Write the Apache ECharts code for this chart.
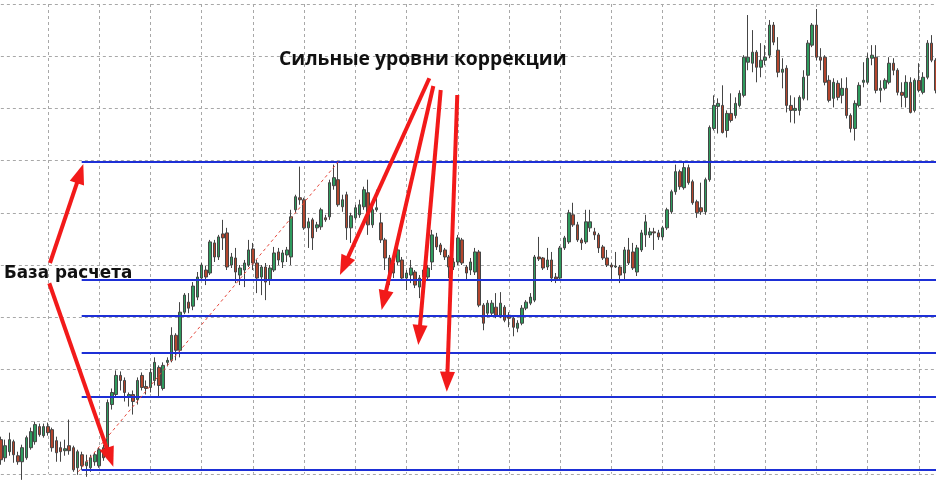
<!DOCTYPE html>
<html><head><meta charset="utf-8">
<script src="https://cdn.jsdelivr.net/npm/echarts@6/dist/echarts.min.js"></script>
<style>html,body{margin:0;padding:0;background:#fff}#c{width:936px;height:484px}</style>
</head><body><div id="c"></div>
<script>
// Values in pips above 1.3000 (one bar per category)
const opens = [
34,16,22,32,18,12,16,26,32,
47,38,47,44,33,26,23,28,26,6,
19,8,6,12,8,26,26,69,79,98,
93,76,79,74,98,87,86,93,106,85,
111,113,138,123,161,171,167,176,195,203,
200,230,216,239,240,208,215,198,203,208,
224,210,196,206,193,203,221,211,218,216,
263,275,273,245,253,245,246,255,256,287,
293,266,278,245,255,258,266,280,248,263,
250,233,215,210,211,213,195,198,201,186,
203,196,211,236,228,223,216,206,211,233,
206,203,201,221,168,160,160,166,158,166,
158,155,145,150,165,170,173,216,215,206,
213,196,195,225,231,258,248,233,231,245,
241,238,226,215,208,206,206,200,223,221,
201,223,238,238,241,240,236,245,261,281,
301,285,305,291,271,265,261,293,344,366,
367,342,359,357,367,377,410,409,420,405,
412,417,447,422,400,404,367,362,362,374,
397,427,447,415,415,392,374,389,377,384,
357,344,367,390,390,414,415,382,384,390,
409,402,380,375,390,362,392,380,395,429,412];
const closes = [
14,28,34,19,12,26,36,42,49,
39,47,41,26,21,22,25,23,4,22,
8,12,16,19,24,16,71,81,98,93,
81,79,72,93,86,85,101,111,88,108,
113,138,123,161,178,165,187,196,208,196,
231,216,236,235,206,216,201,205,210,223,
210,195,206,191,205,220,213,220,223,256,
276,273,245,251,235,248,263,253,290,295,
268,273,245,257,265,268,283,248,263,265,
233,215,198,200,223,195,200,205,188,195,
196,205,238,226,221,216,206,211,235,210,
200,211,221,168,150,170,170,158,170,153,
155,146,150,165,171,176,216,214,205,213,
195,194,225,235,260,248,233,230,251,251,
238,225,215,208,206,207,198,223,210,205,
225,240,251,241,240,236,245,263,281,301,
286,305,290,270,260,261,293,345,367,369,
340,359,352,369,379,415,415,420,405,412,
415,447,430,400,403,367,362,364,375,395,
429,447,415,412,390,372,390,375,384,357,
344,369,387,392,414,417,382,384,392,409,
402,380,377,390,360,392,382,395,429,412,382];
const lows = [
9,12,18,11,9,-6,14,24,29,
37,36,38,22,12,12,18,19,2,-1,
4,-3,2,8,6,13,22,64,76,83,
72,67,59,69,83,79,81,88,77,83,
107,111,113,116,159,160,163,173,193,188,
198,211,213,223,203,205,190,188,186,206,
203,180,178,173,188,201,208,205,211,208,
260,268,243,225,223,241,243,251,253,283,
266,261,233,230,253,255,263,238,245,261,
230,203,188,195,208,193,183,190,185,175,
193,193,203,223,218,213,195,203,208,208,
193,198,198,166,143,156,157,155,155,151,
146,137,141,148,163,168,171,212,203,203,
191,190,193,223,229,246,231,223,229,241,
233,220,213,206,193,205,190,193,208,203,
197,221,226,235,223,233,233,243,259,278,
283,283,288,268,255,258,258,291,342,339,
339,335,350,354,365,375,402,400,390,395,
407,414,427,395,384,360,350,349,357,372,
372,425,412,402,387,370,365,372,369,354,
340,332,365,385,388,407,379,370,382,388,
397,377,365,365,359,360,380,378,393,410,379];
const highs = [
37,34,41,34,22,29,38,46,52,
50,50,51,46,37,32,34,54,28,24,
22,19,19,21,26,29,74,85,103,102,
96,81,83,96,101,93,105,116,108,111,
116,146,140,171,180,180,191,201,210,207,
233,233,238,253,245,220,225,208,213,233,
230,213,208,210,208,226,225,223,226,263,
278,306,275,255,255,251,265,258,293,308,
311,278,281,260,268,273,286,293,266,283,
260,235,218,213,226,216,203,213,203,198,
205,208,243,240,230,225,218,215,238,235,
208,215,225,223,170,173,173,180,181,168,
161,158,153,168,173,180,218,236,216,225,
221,200,227,237,263,270,251,235,263,263,
245,240,228,223,210,221,208,226,235,230,
228,243,258,245,245,243,247,265,283,308,
303,311,308,293,273,290,295,347,377,374,
387,362,379,375,382,417,457,442,422,429,
427,452,450,435,414,407,377,375,377,402,
432,449,463,424,417,397,394,392,394,395,
359,372,390,410,419,427,427,392,394,415,
414,404,390,397,395,394,409,400,432,437,414];

// Retracement levels (pips): 100%, 38.2%, 50%, 61.8%, 76.4%, 0%
const fibLevels = [311, 193, 157, 121, 77, 4];
const fibStartBar = 18.93;
// trend (base) line: [bar, pips]
const trendLine = [[18.14, 2.1], [79.03, 310.9]];
// annotation arrows: [[fromBar, fromPips], [arrowHeadBar, arrowHeadPips]]
const arrows = [
  [[11.51, 210.0], [18.56, 299.1]],
  [[11.34, 189.8], [25.56, 16.4]],
  [[100.34, 394.0], [80.38, 207.1]],
  [[101.28, 386.3], [89.70, 172.8]],
  [[103.01, 382.3], [97.97, 138.3]],
  [[106.89, 377.3], [104.51, 91.7]]
];
const NCAT = opens.length;
const categories = [];
for (let i = 0; i < NCAT; i++) categories.push('Bar ' + (i + 1));

const candles = opens.map((o, i) => [o, closes[i], lows[i], highs[i]]);

const gridLine = {color: '#a8a8a8', type: [3, 3], width: 1};
const chart = echarts.init(document.getElementById('c'));
chart.setOption({
  animation: false,
  backgroundColor: '#ffffff',
  grid: {left: 0.86, right: 0, top: 4, bottom: 10.2},
  xAxis: [
    {type: 'category', data: categories, boundaryGap: false,
     axisLine: {show: false}, axisTick: {show: false}, axisLabel: {show: false},
     splitLine: {show: true, interval: function (idx) { return (idx + 1) % 12 === 0; }, lineStyle: gridLine}},
    {type: 'value', min: 0, max: NCAT - 1, show: false, splitLine: {show: false}}
  ],
  yAxis: {type: 'value', min: 0, max: 468, interval: 52,
    axisLine: {show: false}, axisTick: {show: false}, axisLabel: {show: false},
    splitLine: {show: true, lineStyle: gridLine}},
  series: [
    {type: 'candlestick', data: candles, barWidth: 3, z: 2, silent: true, clip: false,
     itemStyle: {color: '#2f9b5e', color0: '#b3452d', borderColor: '#454545', borderColor0: '#454545', borderWidth: 1}},
    {type: 'line', xAxisIndex: 1, data: [], z: 3, silent: true,
     markLine: {silent: true, animation: false, symbol: ['none', 'none'], label: {show: false},
       emphasis: {disabled: true},
       data: fibLevels.map(v => [
         {coord: [fibStartBar, v], lineStyle: {color: '#1d2fd6', width: 2, type: 'solid'}},
         {coord: [NCAT - 1, v]}
       ]).concat([[
         {coord: trendLine[0], lineStyle: {color: '#e5483c', width: 1, type: [3, 3]}},
         {coord: trendLine[1]}
       ]])}},
    {type: 'line', xAxisIndex: 1, data: [], z: 5, silent: true,
     markLine: {silent: true, animation: false, symbol: ['none', 'triangle'], symbolSize: [15, 20],
       label: {show: false}, emphasis: {disabled: true},
       lineStyle: {color: '#f21a1a', width: 4, type: 'solid', opacity: 1},
       itemStyle: {color: '#f21a1a'},
       data: arrows.map(a => [{coord: a[0]}, {coord: a[1]}])}}
  ],
  graphic: [
    {type: 'text', x: 279, y: 59.5, z: 100,
     style: {text: 'Сильные уровни коррекции', font: 'bold 19.3px "Open Sans"', fill: '#111', align: 'left', verticalAlign: 'middle'}},
    {type: 'text', x: 4, y: 273.5, z: 100,
     style: {text: 'База расчета', font: 'bold 16.8px "DejaVu Sans"', fill: '#111', align: 'left', verticalAlign: 'middle'}}
  ]
});
</script>
</body></html>
